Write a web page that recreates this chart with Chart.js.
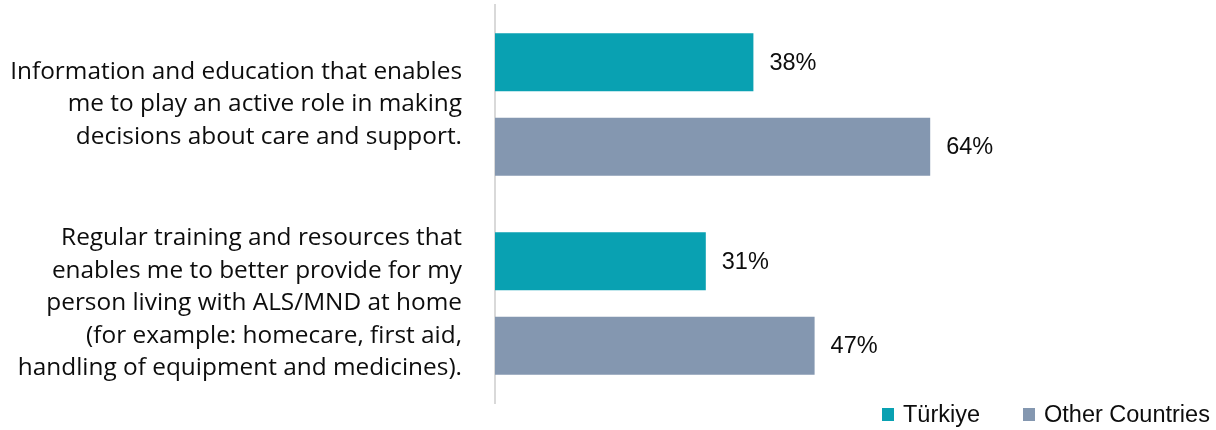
<!DOCTYPE html>
<html>
<head>
<meta charset="utf-8">
<script src="https://cdn.jsdelivr.net/npm/chart.js@4.4.1/dist/chart.umd.min.js"></script>
<style>
  html, body { margin: 0; padding: 0; background: #fff; }
  #wrap { position: relative; width: 1216px; height: 430px; }
  #legend { position: absolute; top: 401px; left: 0; width: 1216px; height: 27px;
    font-family: "Liberation Sans", Arial, sans-serif; font-size: 23.5px; color: #0d0d0d; }
  .li { position: absolute; top: 0; height: 27px; display: flex; align-items: center; white-space: nowrap; }
  .sw { display: block; width: 12px; height: 13px; margin-right: 9px; }
</style>
</head>
<body>
<div id="wrap">
  <canvas id="c" width="1216" height="430"></canvas>
  <div id="legend"></div>
</div>
<script>
const categories = [
  ["Information and education that enables", "me to play an active role in making", "decisions about care and support."],
  ["Regular training and resources that", "enables me to better provide for my", "person living with ALS/MND at home", "(for example: homecare, first aid,", "handling of equipment and medicines)."]
];
const seriesNames = ["Türkiye", "Other Countries"];
const turkiyeValues = [38, 31];
const otherValues = [64, 47];
const seriesColors = ["#09A1B2", "#8497B0"];

const valueLabels = {
  id: 'valueLabels',
  afterDatasetsDraw(chart) {
    const ctx = chart.ctx;
    ctx.save();
    ctx.font = '23.5px "Liberation Sans", Arial, sans-serif';
    ctx.fillStyle = '#0d0d0d';
    ctx.textAlign = 'left';
    ctx.textBaseline = 'middle';
    chart.data.datasets.forEach((ds, i) => {
      chart.getDatasetMeta(i).data.forEach((bar, j) => {
        ctx.fillText(ds.data[j] + '%', bar.x + 16, bar.y + 1);
      });
    });
    ctx.restore();
  }
};

const chart = new Chart(document.getElementById('c'), {
  type: 'bar',
  data: {
    labels: categories,
    datasets: [
      { label: seriesNames[0], data: turkiyeValues, backgroundColor: seriesColors[0] },
      { label: seriesNames[1], data: otherValues, backgroundColor: seriesColors[1] }
    ]
  },
  options: {
    indexAxis: 'y',
    responsive: false,
    animation: false,
    layout: { padding: { top: 5, bottom: 27, right: 41, left: 0 } },
    datasets: { bar: { categoryPercentage: 0.849, barPercentage: 0.686 } },
    scales: {
      x: { display: false, min: 0, max: 100 },
      y: {
        grid: { display: false },
        border: { display: true, color: '#d9d9d9', width: 2 },
        ticks: {
          color: '#0d0d0d',
          padding: 25,
          font: { family: 'Open Sans', size: 24.4, lineHeight: 32.5 / 24.4 }
        },
        afterFit(scale) {
          scale.width = 495;
          scale.paddingTop = 0;
          scale.paddingBottom = 0;
        }
      }
    },
    plugins: {
      legend: { display: false },
      tooltip: { enabled: false }
    }
  },
  plugins: [valueLabels]
});

const legend = document.getElementById('legend');
const positions = [882, 1023];
chart.data.datasets.forEach((ds, i) => {
  const item = document.createElement('div');
  item.className = 'li';
  item.style.left = positions[i] + 'px';
  const sw = document.createElement('span');
  sw.className = 'sw';
  sw.style.background = ds.backgroundColor;
  item.appendChild(sw);
  item.appendChild(document.createTextNode(ds.label));
  legend.appendChild(item);
});
</script>
</body>
</html>
